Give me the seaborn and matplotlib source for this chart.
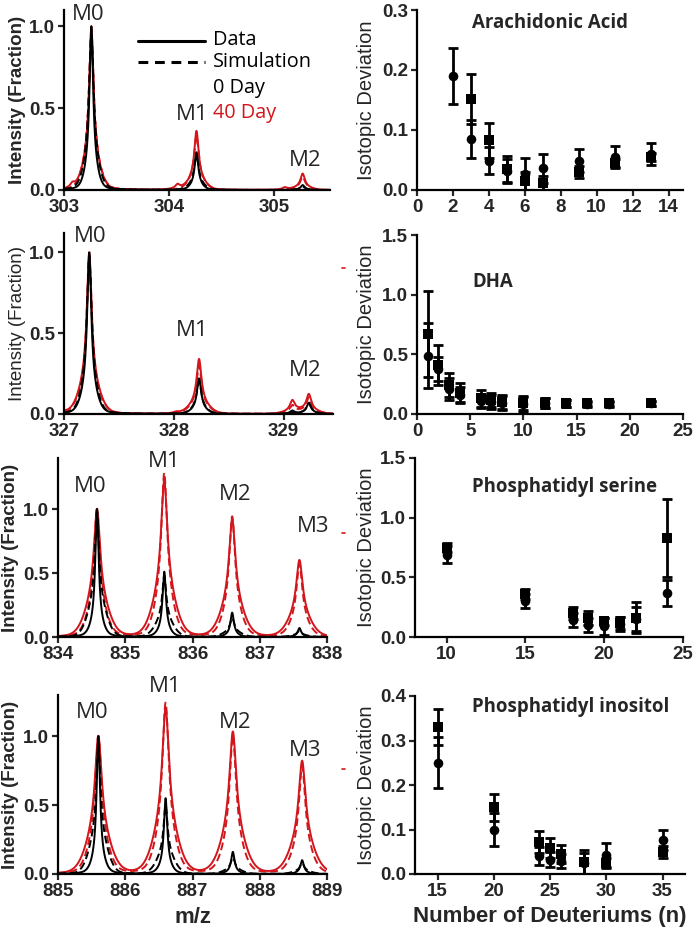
import numpy as np
import pandas as pd
import matplotlib
matplotlib.use("Agg")
import matplotlib.pyplot as plt
from matplotlib.lines import Line2D
import seaborn as sns

# ---------------- DATA ----------------
# Spectra: peak centres (m/z) and heights for each series
aa_centers = [303.08, 303.26, 304.08, 304.26, 305.10, 305.27]
aa_data0 = [0.0, 1.00, 0.0, 0.23, 0.0, 0.03]
aa_sim0 = [0.0, 0.98, 0.0, 0.21, 0.0, 0.02]
aa_data40 = [0.03, 1.00, 0.03, 0.36, 0.015, 0.10]
aa_sim40 = [0.0, 0.97, 0.0, 0.33, 0.0, 0.08]

dha_centers = [327.00, 327.23, 328.02, 328.23, 329.08, 329.23]
dha_data0 = [0.0, 1.00, 0.0, 0.22, 0.02, 0.07]
dha_sim0 = [0.0, 0.98, 0.0, 0.20, 0.01, 0.06]
dha_data40 = [0.01, 1.00, 0.01, 0.34, 0.08, 0.12]
dha_sim40 = [0.0, 0.95, 0.0, 0.30, 0.05, 0.10]

ps_centers = [834.58, 835.58, 836.59, 837.59]
ps_data0 = [1.00, 0.51, 0.19, 0.07]
ps_sim0 = [0.98, 0.48, 0.15, 0.05]
ps_data40 = [1.00, 1.22, 0.92, 0.60]
ps_sim40 = [1.00, 1.28, 0.94, 0.57]

pi_centers = [885.60, 886.60, 887.60, 888.63]
pi_data0 = [1.00, 0.55, 0.16, 0.10]
pi_sim0 = [0.95, 0.50, 0.12, 0.08]
pi_data40 = [1.00, 1.20, 1.03, 0.82]
pi_sim40 = [1.00, 1.24, 1.00, 0.78]

# Isotopic deviation vs number of deuteriums
n_aa = [2, 3, 4, 5, 6, 7, 9, 11, 13]
aa_circ = [0.19, 0.085, 0.049, 0.032, 0.027, 0.036, 0.049, 0.055, 0.060]
aa_circ_err = [0.046, 0.031, 0.022, 0.020, 0.027, 0.024, 0.019, 0.019, 0.018]
aa_sq = [np.nan, 0.152, 0.083, 0.035, 0.015, 0.012, 0.030, 0.045, 0.055]
aa_sq_err = [np.nan, 0.042, 0.029, 0.022, 0.015, 0.012, 0.010, 0.006, 0.006]

n_dha = [1, 2, 3, 4, 6, 7, 8, 10, 12, 14, 16, 18, 22]
dha_circ = [0.49, 0.38, 0.21, 0.16, 0.11, 0.10, 0.09, 0.08, 0.09, 0.09, 0.08, 0.08, 0.09]
dha_circ_err = [0.27, 0.10, 0.09, 0.07, 0.06, 0.06, 0.06, 0.06, 0.04, 0.03, 0.02, 0.02, 0.02]
dha_sq = [0.67, 0.41, 0.24, 0.18, 0.13, 0.12, 0.10, 0.09, 0.09, 0.09, 0.09, 0.09, 0.09]
dha_sq_err = [0.36, 0.17, 0.10, 0.08, 0.07, 0.06, 0.06, 0.06, 0.04, 0.03, 0.02, 0.02, 0.02]

n_ps = [10, 15, 18, 19, 20, 21, 22, 24]
ps_circ = [0.69, 0.30, 0.14, 0.10, 0.09, 0.11, 0.15, 0.37]
ps_circ_err = [0.07, 0.06, 0.06, 0.06, 0.07, 0.06, 0.10, 0.11]
ps_sq = [0.75, 0.36, 0.20, 0.16, 0.13, 0.12, 0.16, 0.83]
ps_sq_err = [0.04, 0.04, 0.05, 0.06, 0.03, 0.05, 0.13, 0.33]

n_pi = [15, 20, 24, 25, 26, 28, 30, 35]
pi_circ = [0.25, 0.10, 0.040, 0.032, 0.030, 0.024, 0.042, 0.077]
pi_circ_err = [0.057, 0.038, 0.020, 0.017, 0.016, 0.024, 0.028, 0.023]
pi_sq = [0.33, 0.15, 0.072, 0.058, 0.045, 0.027, 0.025, 0.050]
pi_sq_err = [0.040, 0.030, 0.025, 0.022, 0.021, 0.028, 0.010, 0.013]

titles = ["Arachidonic Acid", "DHA", "Phosphatidyl serine", "Phosphatidyl inositol"]
peak_labels = ["M0", "M1", "M2", "M3"]

# ---------------- STYLE ----------------
sns.set_style("ticks")
plt.rcParams["font.family"] = ["Liberation Sans", "DejaVu Sans"]
RED = "#d2161c"
W, H = 697, 933

fig = plt.figure(figsize=(W / 100, H / 100), dpi=100)


def box(x0, x1, y0, y1):
    return [x0 / W, 1 - y1 / H, (x1 - x0) / W, (y1 - y0) / H]


def fx(px):
    return px / W


def fy(py):
    return 1 - py / H


def profile(x, centers, heights, gamma, sigma, frac):
    y = np.zeros_like(x)
    for c, h in zip(centers, heights):
        lor = 1.0 / (1.0 + ((x - c) / gamma) ** 2)
        gau = np.exp(-0.5 * ((x - c) / sigma) ** 2)
        y += h * ((1 - frac) * lor + frac * gau)
    return y


def style_axes(ax):
    sns.despine(ax=ax)
    for s in ["left", "bottom"]:
        ax.spines[s].set_linewidth(1.6)
        ax.spines[s].set_color("black")
    ax.tick_params(direction="out", length=4.5, width=1.6, labelsize=13.5, pad=2)
    for lab in ax.get_xticklabels() + ax.get_yticklabels():
        lab.set_fontweight("bold")


left_px = [(64, 330, 10, 190), (64, 333, 233, 414), (58, 327, 458, 637), (58, 327, 695, 874)]
right_px = [(417, 683, 10, 190), (417, 683, 235, 414), (415, 683, 458, 637), (415, 685, 696, 874)]
left_label_right = [26, 26, 19, 19]
right_label_right = [376, 376, 376, 376]

spectra = [
    (aa_centers, aa_data0, aa_sim0, aa_data40, aa_sim40, (303, 305.53), 1.1, [303, 304, 305],
     dict(d0=(0.02, 0.05, 0.15), s0=(0.025, 0.06, 0.2), d40=(0.024, 0.07, 0.2), s40=(0.026, 0.07, 0.2))),
    (dha_centers, dha_data0, dha_sim0, dha_data40, dha_sim40, (327, 329.45), 1.12, [327, 328, 329],
     dict(d0=(0.022, 0.06, 0.15), s0=(0.025, 0.06, 0.2), d40=(0.026, 0.08, 0.2), s40=(0.026, 0.08, 0.2))),
    (ps_centers, ps_data0, ps_sim0, ps_data40, ps_sim40, (834, 838), 1.4, [834, 835, 836, 837, 838],
     dict(d0=(0.03, 0.08, 0.1), s0=(0.035, 0.12, 0.3), d40=(0.055, 0.15, 0.3), s40=(0.05, 0.12, 0.25))),
    (pi_centers, pi_data0, pi_sim0, pi_data40, pi_sim40, (885, 889), 1.3, [885, 886, 887, 888, 889],
     dict(d0=(0.03, 0.08, 0.1), s0=(0.035, 0.12, 0.3), d40=(0.06, 0.16, 0.3), s40=(0.055, 0.13, 0.25))),
]

for i, (cen, d0, s0, d40, s40, xl, ytop, xt, wd) in enumerate(spectra):
    x0, x1, y0, y1 = left_px[i]
    ax = fig.add_axes(box(x0, x1, y0, y1))
    x = np.linspace(xl[0], xl[1], 2500)
    series = [(d40, "d40", RED, "-"), (s40, "s40", RED, (0, (4, 2))),
              (d0, "d0", "black", "-"), (s0, "s0", "black", (0, (4, 2)))]
    for hts, key, col, ls in series:
        g, sg, fr = wd[key]
        y = profile(x, cen, hts, g, sg, fr)
        df = pd.DataFrame({"mz": x, "I": y})
        sns.lineplot(data=df, x="mz", y="I", ax=ax, color=col, lw=1.4,
                     linestyle=ls, estimator=None, sort=False)
    ax.set_xlim(*xl)
    ax.set_ylim(0, ytop)
    ax.set_xticks(xt)
    ax.set_yticks([0, 0.5, 1.0])
    ax.set_yticklabels(["0.0", "0.5", "1.0"])
    ax.set_xlabel("")
    ax.set_ylabel("Intensity (Fraction)", fontsize=13.5,
                  fontweight="bold" if i != 1 else "normal")
    ax.yaxis.set_label_coords((left_label_right[i] - x0) / (x1 - x0), 0.5)
    style_axes(ax)
    if i == 3:
        ax.set_xlabel("m/z", fontsize=16, fontweight="bold", labelpad=5)

right = [
    (n_aa, aa_circ, aa_circ_err, aa_sq, aa_sq_err, (0, 14.8), 0.3, list(range(0, 15, 2)), [0, 0.1, 0.2, 0.3]),
    (n_dha, dha_circ, dha_circ_err, dha_sq, dha_sq_err, (0, 25), 1.5, [0, 5, 10, 15, 20, 25], [0, 0.5, 1.0, 1.5]),
    (n_ps, ps_circ, ps_circ_err, ps_sq, ps_sq_err, (8, 25), 1.5, [10, 15, 20, 25], [0, 0.5, 1.0, 1.5]),
    (n_pi, pi_circ, pi_circ_err, pi_sq, pi_sq_err, (13, 37), 0.4, [15, 20, 25, 30, 35], [0, 0.1, 0.2, 0.3, 0.4]),
]

for i, (n, c, ce, s, se, xl, ytop, xt, yt) in enumerate(right):
    x0, x1, y0, y1 = right_px[i]
    ax = fig.add_axes(box(x0, x1, y0, y1))
    ax.errorbar(n, s, yerr=se, fmt="none", ecolor="black", elinewidth=2.0,
                capsize=3.5, capthick=2.0, zorder=2)
    ax.errorbar(n, c, yerr=ce, fmt="none", ecolor="black", elinewidth=2.0,
                capsize=3.5, capthick=2.0, zorder=2)
    dfs = pd.DataFrame({"n": n, "v": s})
    dfc = pd.DataFrame({"n": n, "v": c})
    sns.scatterplot(data=dfs, x="n", y="v", ax=ax, marker="s", s=55, color="black",
                    edgecolor="black", linewidth=0, zorder=3)
    sns.scatterplot(data=dfc, x="n", y="v", ax=ax, marker="o", s=48, color="black",
                    edgecolor="black", linewidth=0, zorder=3)
    ax.set_xlim(*xl)
    ax.set_ylim(0, ytop)
    ax.set_xticks(xt)
    ax.set_yticks(yt)
    ax.set_yticklabels(["{:.1f}".format(v) for v in yt])
    ax.set_xlabel("")
    ax.set_ylabel("Isotopic Deviation", fontsize=14.5)
    ax.yaxis.set_label_coords((right_label_right[i] - x0) / (x1 - x0), 0.5)
    style_axes(ax)
    if i == 3:
        ax.set_xlabel("Number of Deuteriums (n)", fontsize=16, fontweight="bold", labelpad=4)

# titles of right panels
title_pos = [(550, 23), (493, 282), (564, 487), (571, 707)]
for t, (px, py) in zip(titles, title_pos):
    fig.text(fx(px), fy(py), t, ha="center", va="center", fontsize=13.4,
             fontweight="bold", family=["Open Sans", "DejaVu Sans"])

# peak labels
mpos = [
    [(88, 15), (192, 114), (305, 160)],
    [(90, 236), (192, 330), (305, 371)],
    [(90, 487), (164, 462), (235, 495), (313, 527)],
    [(92, 713), (165, 687), (235, 722), (305, 750)],
]
for row in mpos:
    for lab, (px, py) in zip(peak_labels, row):
        fig.text(fx(px), fy(py), lab, ha="center", va="center", fontsize=16,
                 family=["Open Sans", "DejaVu Sans"])

# legend in first spectrum panel
fig.add_artist(Line2D([fx(138), fx(205)], [fy(41), fy(41)], color="black", lw=2.2))
fig.add_artist(Line2D([fx(138), fx(205)], [fy(62), fy(62)], color="black", lw=2.2,
                      linestyle=(0, (3.2, 2.2))))
leg_items = [("Data", 40, "black"), ("Simulation", 62, "black"),
             ("0 Day", 88, "black"), ("40 Day", 113, RED)]
for t, py, col in leg_items:
    fig.text(fx(213), fy(py), t, ha="left", va="center", fontsize=14.3, color=col,
             family=["Open Sans", "DejaVu Sans"])

# small stray red marks at right edge of spectra panels
for py in [268, 533, 769]:
    fig.add_artist(Line2D([fx(342), fx(345)], [fy(py), fy(py)], color=RED, lw=1.2))

fig.savefig("out.png", dpi=100)
